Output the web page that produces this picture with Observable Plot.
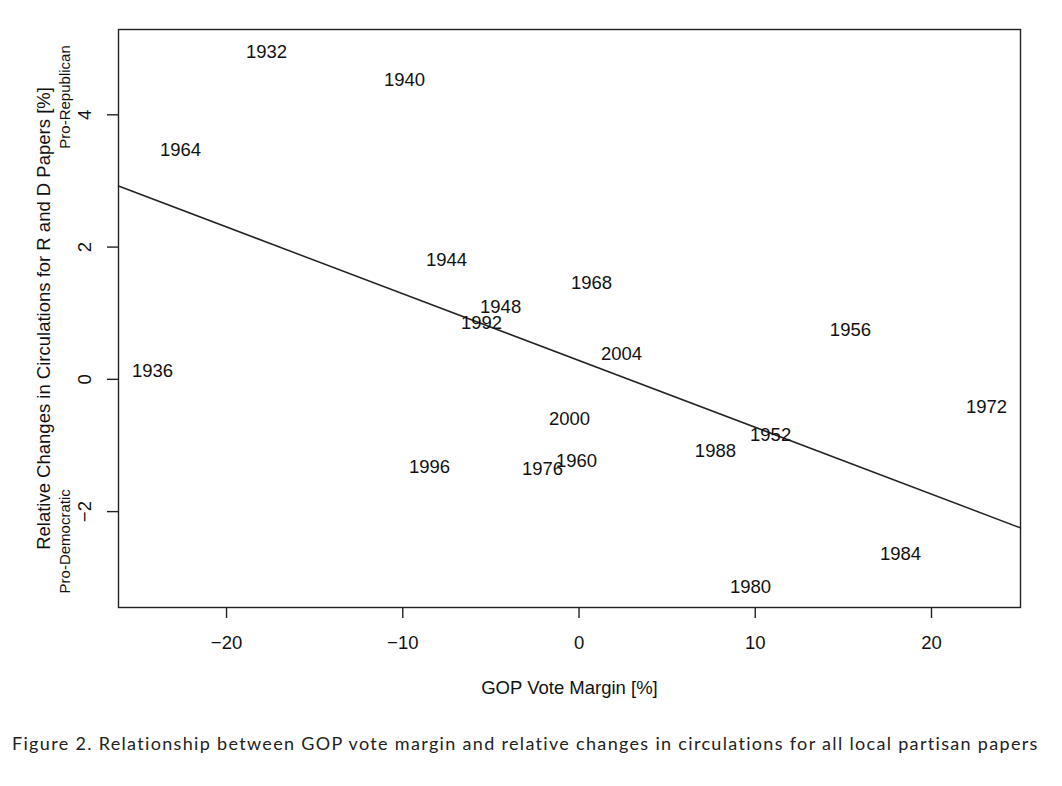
<!DOCTYPE html>
<html>
<head>
<meta charset="utf-8">
<script src="https://cdn.jsdelivr.net/npm/d3@7"></script>
<script src="https://cdn.jsdelivr.net/npm/@observablehq/plot@0.6"></script>
<style>
  html, body { margin: 0; padding: 0; background: #fff; }
  #wrap { position: relative; width: 1062px; height: 786px; }
  #caption { position: absolute; left: 12px; top: 733px; font-family: Lato, "Open Sans", sans-serif; font-size: 18px; line-height: 20px; color: #222; white-space: nowrap; }
</style>
</head>
<body>
<div id="wrap">
  <div id="chart"></div>
  <div id="caption">Figure 2. Relationship between GOP vote margin and relative changes in circulations for all local partisan papers</div>
</div>
<script>
// Election years and values
const years = ["1932","1936","1940","1944","1948","1952","1956","1960","1964","1968","1972","1976","1980","1984","1988","1992","1996","2000","2004"];
const gopMargin = [-17.73,-24.20,-9.90,-7.52,-4.45,10.87,15.40,-0.14,-22.61,0.71,23.12,-2.07,9.73,18.24,7.74,-5.53,-8.48,-0.54,2.41];
const circChange = [4.95,0.12,4.53,1.80,1.09,-0.85,0.74,-1.24,3.47,1.45,-0.42,-1.36,-3.14,-2.64,-1.09,0.85,-1.33,-0.60,0.38];

// Fitted line
const fitIntercept = 0.284;
const fitSlope = -0.101;

// Axes
const xDomain = [-26.13, 25.05];
const yDomain = [-3.45, 5.29];
const xTicks = [-20, -10, 0, 10, 20];
const yTicks = [-2, 0, 2, 4];
const xLabel = "GOP Vote Margin [%]";
const yLabel = "Relative Changes in Circulations for R and D Papers [%]";
const sideLabels = ["Pro-Republican", "Pro-Democratic"];
const sideLabelY = [4.27, -2.45];

const points = years.map((yr, i) => ({year: yr, x: gopMargin[i], y: circChange[i]}));
const fitLine = xDomain.map(x => ({x, y: fitIntercept + fitSlope * x}));
const sides = sideLabels.map((t, i) => ({text: t, y: sideLabelY[i]}));

const font = '"Liberation Sans", Arial, Helvetica, sans-serif';

const chart = Plot.plot({
  width: 1062,
  height: 710,
  marginTop: 29,
  marginBottom: 103,
  marginLeft: 118,
  marginRight: 42,
  style: {fontFamily: font, fontSize: "18.5px", color: "#111", background: "#fff"},
  x: {domain: xDomain},
  y: {domain: yDomain},
  marks: [
    Plot.frame({stroke: "#222", strokeWidth: 1.4}),
    Plot.axisX({ticks: xTicks, tickSize: 11, tickPadding: 17, fontSize: 18.5, stroke: "#222", strokeWidth: 1.4,
      label: xLabel, labelAnchor: "center", labelArrow: "none", labelOffset: 86}),
    Plot.axisY({ticks: yTicks, tickSize: 11, tickPadding: 17, tickRotate: -90, fontSize: 18.5, stroke: "#222", strokeWidth: 1.4,
      label: yLabel, labelAnchor: "center", labelArrow: "none", labelOffset: 82}),
    Plot.text(sides, {y: "y", text: "text", frameAnchor: "left", dx: -53, rotate: -90, fontSize: 15, fill: "#111", textAnchor: "middle", lineAnchor: "middle"}),
    Plot.line(fitLine, {x: "x", y: "y", stroke: "#222", strokeWidth: 1.5}),
    Plot.text(points, {x: "x", y: "y", text: "year", fontSize: 18.5, fill: "#111"})
  ]
});
document.getElementById("chart").appendChild(chart);

// fit caption to the reference's width
const cap = document.getElementById("caption");
const target = 1028;
const w = cap.getBoundingClientRect().width;
const n = cap.textContent.length;
cap.style.letterSpacing = ((target - w) / n) + "px";
</script>
</body>
</html>
